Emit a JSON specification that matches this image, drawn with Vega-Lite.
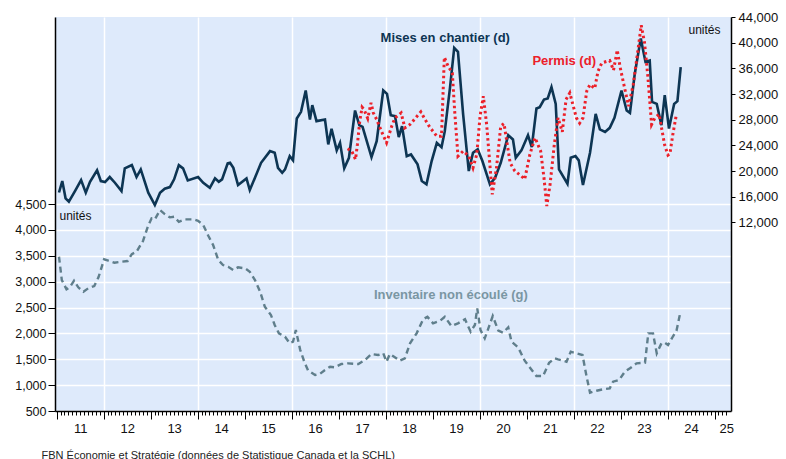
{
  "$schema": "https://vega.github.io/schema/vega-lite/v6.json",
  "autosize": "none",
  "width": 676,
  "height": 394,
  "padding": {"left": 55, "top": 17, "right": 55, "bottom": 48},
  "background": "white",
  "config": {"view": {"fill": "#DEEAFB", "stroke": null}, "font": "Liberation Sans"},
  "datasets": {
    "starts": [
      {"t":2011.05,"v":16650},{"t":2011.12,"v":18435},{"t":2011.19,"v":15740},{"t":2011.26,"v":15215},{"t":2011.39,"v":16880},{"t":2011.52,"v":18590},{"t":2011.62,"v":16620},{"t":2011.71,"v":18330},{"t":2011.86,"v":20100},{"t":2011.94,"v":18435},
      {"t":2012.03,"v":18280},{"t":2012.13,"v":19060},{"t":2012.24,"v":18170},{"t":2012.38,"v":16880},{"t":2012.45,"v":20410},{"t":2012.60,"v":20920},{"t":2012.70,"v":19060},{"t":2012.79,"v":20250},{"t":2012.95,"v":16620},
      {"t":2013.09,"v":14700},{"t":2013.20,"v":16620},{"t":2013.30,"v":17240},{"t":2013.41,"v":17500},{"t":2013.50,"v":18700},{"t":2013.60,"v":20920},{"t":2013.69,"v":20410},{"t":2013.79,"v":18540},
      {"t":2014.01,"v":19060},{"t":2014.12,"v":18170},{"t":2014.26,"v":17390},{"t":2014.37,"v":18850},{"t":2014.45,"v":18320},{"t":2014.52,"v":18700},{"t":2014.64,"v":21180},{"t":2014.69,"v":21280},{"t":2014.76,"v":20500},{"t":2014.86,"v":17810},
      {"t":2015.04,"v":18850},{"t":2015.11,"v":17030},{"t":2015.22,"v":18950},{"t":2015.35,"v":21280},{"t":2015.54,"v":23100},{"t":2015.64,"v":22840},{"t":2015.71,"v":20500},{"t":2015.80,"v":19730},{"t":2015.86,"v":20250},{"t":2015.96,"v":22320},
      {"t":2016.03,"v":21660},{"t":2016.11,"v":28190},{"t":2016.20,"v":29220},{"t":2016.30,"v":32550},{"t":2016.39,"v":28030},{"t":2016.44,"v":30260},{"t":2016.53,"v":27770},{"t":2016.71,"v":28030},{"t":2016.78,"v":24140},{"t":2016.85,"v":26570},{"t":2016.96,"v":23210},
      {"t":2017.03,"v":24390},{"t":2017.12,"v":20410},{"t":2017.22,"v":22060},{"t":2017.35,"v":29430},{"t":2017.44,"v":27150},{"t":2017.51,"v":26880},{"t":2017.70,"v":22170},{"t":2017.81,"v":24660},{"t":2017.95,"v":32550},
      {"t":2018.03,"v":32020},{"t":2018.11,"v":28700},{"t":2018.20,"v":28550},{"t":2018.28,"v":25280},{"t":2018.35,"v":26990},{"t":2018.45,"v":22320},{"t":2018.54,"v":22580},{"t":2018.68,"v":21030},{"t":2018.77,"v":18430},{"t":2018.87,"v":17920},{"t":2018.98,"v":21550},
      {"t":2019.09,"v":24390},{"t":2019.19,"v":23720},{"t":2019.26,"v":26210},{"t":2019.37,"v":32960},{"t":2019.46,"v":39180},{"t":2019.54,"v":38560},{"t":2019.65,"v":28810},{"t":2019.77,"v":19990},{"t":2019.86,"v":22840},{"t":2019.96,"v":23370},
      {"t":2020.06,"v":21550},{"t":2020.22,"v":17920},{"t":2020.33,"v":18950},{"t":2020.45,"v":21280},{"t":2020.61,"v":25590},{"t":2020.71,"v":24920},{"t":2020.77,"v":22060},{"t":2020.89,"v":23210},
      {"t":2021.03,"v":25590},{"t":2021.11,"v":23720},{"t":2021.21,"v":29740},{"t":2021.28,"v":29940},{"t":2021.37,"v":31140},{"t":2021.45,"v":31300},{"t":2021.53,"v":33060},{"t":2021.62,"v":30460},{"t":2021.69,"v":20250},{"t":2021.87,"v":18010},{"t":2021.94,"v":22060},
      {"t":2022.04,"v":22320},{"t":2022.11,"v":21660},{"t":2022.20,"v":17810},{"t":2022.35,"v":22840},{"t":2022.47,"v":28900},{"t":2022.56,"v":26480},{"t":2022.67,"v":26100},{"t":2022.77,"v":26730},{"t":2022.87,"v":28280},
      {"t":2023.02,"v":32550},{"t":2023.13,"v":29430},{"t":2023.20,"v":29060},{"t":2023.30,"v":35040},{"t":2023.43,"v":40640},{"t":2023.53,"v":37000},{"t":2023.62,"v":37220},{"t":2023.67,"v":30770},{"t":2023.77,"v":30460},{"t":2023.87,"v":27150},{"t":2023.94,"v":31820},
      {"t":2024.03,"v":26630},{"t":2024.14,"v":30460},{"t":2024.21,"v":30880},{"t":2024.28,"v":36170}
    ],
    "permits": [
      {"t":2017.19,"v":23460},{"t":2017.28,"v":23100},{"t":2017.36,"v":21810},{"t":2017.40,"v":24140},{"t":2017.45,"v":27770},{"t":2017.50,"v":29940},{"t":2017.54,"v":29590},{"t":2017.62,"v":28190},{"t":2017.69,"v":30620},{"t":2017.74,"v":29060},{"t":2017.81,"v":28030},{"t":2017.91,"v":26210},
      {"t":2018.02,"v":24390},{"t":2018.13,"v":26990},{"t":2018.20,"v":28280},{"t":2018.33,"v":29060},{"t":2018.41,"v":26730},{"t":2018.52,"v":27250},{"t":2018.64,"v":28280},{"t":2018.75,"v":29220},{"t":2018.84,"v":28030},{"t":2018.94,"v":26830},
      {"t":2019.09,"v":25430},{"t":2019.19,"v":25430},{"t":2019.25,"v":37730},{"t":2019.33,"v":36330},{"t":2019.42,"v":35290},{"t":2019.47,"v":29320},{"t":2019.54,"v":22320},{"t":2019.65,"v":23100},{"t":2019.77,"v":22320},{"t":2019.86,"v":20500},{"t":2019.94,"v":22580},
      {"t":2020.01,"v":28550},{"t":2020.08,"v":31660},{"t":2020.15,"v":27250},{"t":2020.27,"v":16360},{"t":2020.36,"v":20500},{"t":2020.45,"v":26990},{"t":2020.52,"v":27390},{"t":2020.65,"v":21280},{"t":2020.75,"v":19990},{"t":2020.89,"v":19210},{"t":2020.96,"v":18700},
      {"t":2021.07,"v":22580},{"t":2021.18,"v":25170},{"t":2021.30,"v":23100},{"t":2021.37,"v":18950},{"t":2021.43,"v":14540},{"t":2021.50,"v":17920},{"t":2021.59,"v":24140},{"t":2021.67,"v":28280},{"t":2021.76,"v":26100},{"t":2021.84,"v":31140},{"t":2021.92,"v":32170},
      {"t":2022.06,"v":28280},{"t":2022.13,"v":27450},{"t":2022.20,"v":28280},{"t":2022.28,"v":32440},{"t":2022.35,"v":33480},{"t":2022.45,"v":32860},{"t":2022.52,"v":35550},{"t":2022.60,"v":36850},{"t":2022.77,"v":37220},{"t":2022.85,"v":35700},{"t":2022.93,"v":38850},{"t":2022.99,"v":36200},
      {"t":2023.07,"v":33480},{"t":2023.17,"v":30100},{"t":2023.27,"v":33480},{"t":2023.36,"v":38300},{"t":2023.44,"v":42710},{"t":2023.51,"v":40000},{"t":2023.58,"v":34800},{"t":2023.66,"v":27250},{"t":2023.73,"v":28280},{"t":2023.82,"v":28850},{"t":2023.87,"v":26800},{"t":2023.94,"v":24000},
      {"t":2024.01,"v":22470},{"t":2024.05,"v":22680},{"t":2024.11,"v":25600},{"t":2024.18,"v":28500}
    ],
    "inv": [
      {"t":2011.05,"v":3481},{"t":2011.11,"v":3031},{"t":2011.21,"v":2851},{"t":2011.28,"v":2890},{"t":2011.37,"v":3018},{"t":2011.46,"v":2890},{"t":2011.57,"v":2805},{"t":2011.67,"v":2870},{"t":2011.80,"v":2915},{"t":2011.89,"v":3083},
      {"t":2012.01,"v":3431},{"t":2012.10,"v":3404},{"t":2012.23,"v":3365},{"t":2012.38,"v":3385},{"t":2012.51,"v":3398},{"t":2012.60,"v":3533},{"t":2012.70,"v":3578},{"t":2012.84,"v":3790},{"t":2012.94,"v":4061},
      {"t":2013.02,"v":4223},{"t":2013.09,"v":4204},{"t":2013.20,"v":4383},{"t":2013.30,"v":4306},{"t":2013.41,"v":4242},{"t":2013.50,"v":4254},{"t":2013.60,"v":4157},{"t":2013.73,"v":4204},{"t":2013.91,"v":4204},
      {"t":2014.01,"v":4177},{"t":2014.12,"v":4094},{"t":2014.23,"v":3881},{"t":2014.33,"v":3707},{"t":2014.44,"v":3417},{"t":2014.54,"v":3321},{"t":2014.65,"v":3288},{"t":2014.76,"v":3224},{"t":2014.86,"v":3276},
      {"t":2015.01,"v":3257},{"t":2015.11,"v":3191},{"t":2015.22,"v":3031},{"t":2015.33,"v":2805},{"t":2015.43,"v":2515},{"t":2015.56,"v":2355},{"t":2015.64,"v":2162},{"t":2015.73,"v":2001},{"t":2015.86,"v":1935},{"t":2015.96,"v":1808},
      {"t":2016.03,"v":1839},{"t":2016.09,"v":2065},{"t":2016.18,"v":1692},{"t":2016.27,"v":1452},{"t":2016.35,"v":1285},{"t":2016.50,"v":1196},{"t":2016.60,"v":1215},{"t":2016.71,"v":1292},{"t":2016.82,"v":1356},{"t":2016.92,"v":1344},
      {"t":2017.06,"v":1408},{"t":2017.20,"v":1421},{"t":2017.42,"v":1408},{"t":2017.56,"v":1485},{"t":2017.70,"v":1601},{"t":2017.84,"v":1582},{"t":2017.95,"v":1615},
      {"t":2018.02,"v":1452},{"t":2018.09,"v":1601},{"t":2018.18,"v":1549},{"t":2018.30,"v":1472},{"t":2018.41,"v":1518},{"t":2018.52,"v":1808},{"t":2018.66,"v":2001},{"t":2018.80,"v":2272},{"t":2018.89,"v":2322},
      {"t":2019.01,"v":2194},{"t":2019.16,"v":2245},{"t":2019.26,"v":2322},{"t":2019.40,"v":2142},{"t":2019.54,"v":2194},{"t":2019.69,"v":2272},{"t":2019.81,"v":2032},{"t":2019.90,"v":2162},{"t":2019.95,"v":2484},
      {"t":2020.02,"v":2065},{"t":2020.11,"v":1905},{"t":2020.20,"v":2129},{"t":2020.28,"v":2335},{"t":2020.40,"v":2052},{"t":2020.50,"v":2013},{"t":2020.61,"v":2117},{"t":2020.68,"v":1839},{"t":2020.82,"v":1731},{"t":2020.96,"v":1472},
      {"t":2021.11,"v":1292},{"t":2021.21,"v":1176},{"t":2021.35,"v":1176},{"t":2021.48,"v":1433},{"t":2021.60,"v":1518},{"t":2021.67,"v":1499},{"t":2021.78,"v":1472},{"t":2021.85,"v":1452},{"t":2021.94,"v":1646},
      {"t":2022.06,"v":1615},{"t":2022.19,"v":1582},{"t":2022.28,"v":1151},{"t":2022.35,"v":854},{"t":2022.49,"v":892},{"t":2022.63,"v":919},{"t":2022.77,"v":938},{"t":2022.84,"v":1066},{"t":2022.97,"v":1099},
      {"t":2023.09,"v":1259},{"t":2023.20,"v":1325},{"t":2023.34,"v":1421},{"t":2023.52,"v":1433},{"t":2023.59,"v":2001},{"t":2023.69,"v":2001},{"t":2023.77,"v":1615},{"t":2023.87,"v":1808},{"t":2023.94,"v":1820},
      {"t":2024.01,"v":1775},{"t":2024.11,"v":1935},{"t":2024.19,"v":2052},{"t":2024.26,"v":2355}
    ]
  },
  "resolve": {"scale": {"y": "independent"}},
  "layer": [
    {
      "data": {"name": "inv"},
      "mark": {"type": "line", "color": "#5f7e8b", "strokeWidth": 2.4, "strokeDash": [6, 4]},
      "encoding": {
        "x": {
          "field": "t", "type": "quantitative",
          "scale": {"domain": [2010.965, 2025.35], "nice": false, "zero": false},
          "axis": {
            "values": [2011,2011.0833,2011.1667,2011.25,2011.3333,2011.4167,2011.5,2011.5833,2011.6667,2011.75,2011.8333,2011.9167,
                       2012,2012.0833,2012.1667,2012.25,2012.3333,2012.4167,2012.5,2012.5833,2012.6667,2012.75,2012.8333,2012.9167,
                       2013,2013.0833,2013.1667,2013.25,2013.3333,2013.4167,2013.5,2013.5833,2013.6667,2013.75,2013.8333,2013.9167,
                       2014,2014.0833,2014.1667,2014.25,2014.3333,2014.4167,2014.5,2014.5833,2014.6667,2014.75,2014.8333,2014.9167,
                       2015,2015.0833,2015.1667,2015.25,2015.3333,2015.4167,2015.5,2015.5833,2015.6667,2015.75,2015.8333,2015.9167,
                       2016,2016.0833,2016.1667,2016.25,2016.3333,2016.4167,2016.5,2016.5833,2016.6667,2016.75,2016.8333,2016.9167,
                       2017,2017.0833,2017.1667,2017.25,2017.3333,2017.4167,2017.5,2017.5833,2017.6667,2017.75,2017.8333,2017.9167,
                       2018,2018.0833,2018.1667,2018.25,2018.3333,2018.4167,2018.5,2018.5833,2018.6667,2018.75,2018.8333,2018.9167,
                       2019,2019.0833,2019.1667,2019.25,2019.3333,2019.4167,2019.5,2019.5833,2019.6667,2019.75,2019.8333,2019.9167,
                       2020,2020.0833,2020.1667,2020.25,2020.3333,2020.4167,2020.5,2020.5833,2020.6667,2020.75,2020.8333,2020.9167,
                       2021,2021.0833,2021.1667,2021.25,2021.3333,2021.4167,2021.5,2021.5833,2021.6667,2021.75,2021.8333,2021.9167,
                       2022,2022.0833,2022.1667,2022.25,2022.3333,2022.4167,2022.5,2022.5833,2022.6667,2022.75,2022.8333,2022.9167,
                       2023,2023.0833,2023.1667,2023.25,2023.3333,2023.4167,2023.5,2023.5833,2023.6667,2023.75,2023.8333,2023.9167,
                       2024,2024.0833,2024.1667,2024.25,2024.3333,2024.4167,2024.5,2024.5833,2024.6667,2024.75,2024.8333,2024.9167,
                       2025,2025.0833,2025.1667,2025.25],
            "tickCount": 1000,
            "labelExpr": "abs(datum.value - floor(datum.value) - 0.5) < 0.01 ? format(floor(datum.value) % 100, 'd') : (abs(datum.value - 2025.25) < 0.01 ? '25' : '')",
            "labelFlush": false,
            "labelOverlap": false,
            "labelFontSize": 13,
            "labelColor": "#111111",
            "labelPadding": 7,
            "tickColor": "black",
            "tickWidth": 1,
            "tickSize": {"condition": {"test": "abs(datum.value - round(datum.value)) < 0.01", "value": 8}, "value": 4},
            "grid": true,
            "gridColor": "white",
            "gridWidth": 1.5,
            "gridOpacity": {"condition": {"test": "abs(datum.value - round(datum.value)) < 0.01 && round(datum.value) % 2 == 0", "value": 1}, "value": 0},
            "domainColor": "black",
            "domainWidth": 1.5,
            "title": "FBN Économie et Stratégie (données de Statistique Canada et la SCHL)",
            "titleX": -14,
            "titleY": 44,
            "titleAlign": "left",
            "titleBaseline": "middle",
            "titleFontSize": 11,
            "titleFontWeight": "normal",
            "titleColor": "#222222"
          }
        },
        "y": {
          "field": "v", "type": "quantitative",
          "scale": {"domain": [500, 8114], "nice": false, "zero": false},
          "axis": {
            "orient": "left",
            "values": [500, 1000, 1500, 2000, 2500, 3000, 3500, 4000, 4500],
            "tickCount": 100,
            "format": ",d",
            "grid": true, "gridColor": "white", "gridWidth": 1.5,
            "tickSize": 7, "tickColor": "black",
            "domainColor": "black", "domainWidth": 1.5,
            "labelFontSize": 12.5, "labelColor": "#111111", "labelPadding": 2,
            "title": "unités", "titleAngle": 0, "titleX": 4, "titleY": 198,
            "titleAlign": "left", "titleBaseline": "middle",
            "titleFontWeight": "normal", "titleFontSize": 12, "titleColor": "#111111"
          }
        }
      }
    },
    {
      "data": {"name": "starts"},
      "mark": {"type": "line", "color": "#0d3553", "strokeWidth": 2.6},
      "encoding": {
        "x": {"field": "t", "type": "quantitative"},
        "y": {
          "field": "v", "type": "quantitative",
          "scale": {"domain": [-17400, 44000], "nice": false, "zero": false},
          "axis": {
            "orient": "right",
            "values": [12000, 16000, 20000, 24000, 28000, 32000, 36000, 40000, 44000],
            "tickCount": 100,
            "format": ",d",
            "grid": false,
            "tickSize": 4, "tickColor": "black",
            "domainColor": "black", "domainWidth": 1.5,
            "labelFontSize": 13, "labelColor": "#111111", "labelPadding": 3,
            "title": "unités", "titleAngle": 0, "titleX": -43, "titleY": 12,
            "titleAlign": "left", "titleBaseline": "middle",
            "titleFontWeight": "normal", "titleFontSize": 12, "titleColor": "#111111"
          }
        }
      }
    },
    {
      "data": {"name": "permits"},
      "mark": {"type": "line", "color": "#ec2029", "strokeWidth": 3, "strokeDash": [2.5, 3]},
      "encoding": {
        "x": {"field": "t", "type": "quantitative"},
        "y": {"field": "v", "type": "quantitative", "scale": {"domain": [-17400, 44000], "nice": false, "zero": false}, "axis": null}
      }
    },
    {
      "data": {"values": [{"t": 2019.27, "v": 40685, "label": "Mises en chantier (d)"}]},
      "mark": {"type": "text", "color": "#0d3553", "fontWeight": "bold", "fontSize": 13, "align": "center", "baseline": "middle"},
      "encoding": {
        "x": {"field": "t", "type": "quantitative"},
        "y": {"field": "v", "type": "quantitative", "scale": {"domain": [-17400, 44000], "nice": false, "zero": false}, "axis": null},
        "text": {"field": "label"}
      }
    },
    {
      "data": {"values": [{"t": 2021.80, "v": 37105, "label": "Permis (d)"}]},
      "mark": {"type": "text", "color": "#ec2029", "fontWeight": "bold", "fontSize": 13, "align": "center", "baseline": "middle"},
      "encoding": {
        "x": {"field": "t", "type": "quantitative"},
        "y": {"field": "v", "type": "quantitative", "scale": {"domain": [-17400, 44000], "nice": false, "zero": false}, "axis": null},
        "text": {"field": "label"}
      }
    },
    {
      "data": {"values": [{"t": 2019.39, "v": 2741, "label": "Inventaire non écoulé (g)"}]},
      "mark": {"type": "text", "color": "#7a96a3", "fontWeight": "bold", "fontSize": 13, "align": "center", "baseline": "middle"},
      "encoding": {
        "x": {"field": "t", "type": "quantitative"},
        "y": {"field": "v", "type": "quantitative", "scale": {"domain": [500, 8114], "nice": false, "zero": false}, "axis": null},
        "text": {"field": "label"}
      }
    }
  ]
}
